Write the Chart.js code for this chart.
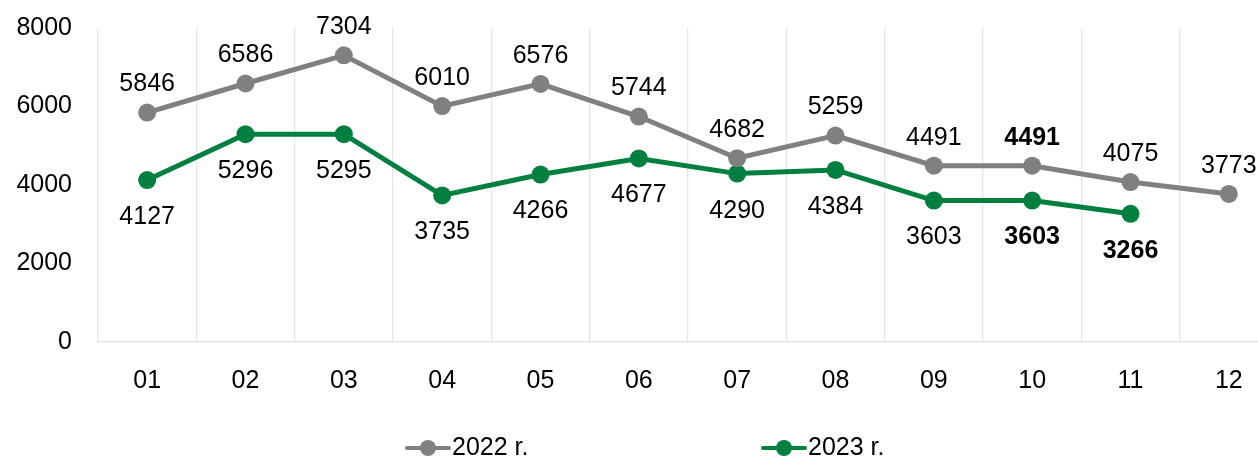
<!DOCTYPE html>
<html>
<head>
<meta charset="utf-8">
<script src="https://cdn.jsdelivr.net/npm/chart.js@4.4.0/dist/chart.umd.min.js"></script>
<style>
  html, body { margin: 0; padding: 0; background: #fff; overflow: hidden; }
  #wrap { width: 1258px; height: 459px; overflow: hidden; }
</style>
</head>
<body>
<div id="wrap"><canvas id="chart" width="1278" height="459"></canvas></div>
<script>
// Data
const months = ['01', '02', '03', '04', '05', '06', '07', '08', '09', '10', '11', '12'];
const values2022 = [5846, 6586, 7304, 6010, 6576, 5744, 4682, 5259, 4491, 4491, 4075, 3773];
const values2023 = [4127, 5296, 5295, 3735, 4266, 4677, 4290, 4384, 3603, 3603, 3266, null];
const yTicks = [0, 2000, 4000, 6000, 8000];
// indices whose labels are bold
const bold2022 = [9];
const bold2023 = [9, 10];

const GRAY = '#808080';
const GREEN = '#007F3F';
const FONT = '"Liberation Sans", Arial, sans-serif';

// Data labels: 2022 above, 2023 below
const labelPlugin = {
    id: 'valueLabels',
    afterDatasetsDraw(chart) {
        const ctx = chart.ctx;
        ctx.save();
        ctx.fillStyle = '#000';
        ctx.textAlign = 'center';
        ctx.textBaseline = 'middle';
        chart.data.datasets.forEach((ds, di) => {
            const meta = chart.getDatasetMeta(di);
            meta.data.forEach((pt, i) => {
                const v = ds.data[i];
                if (v === null) return;
                const isBold = ds.boldIdx.includes(i);
                ctx.font = (isBold ? 'bold ' : '') + '25px ' + FONT;
                const dy = di === 0 ? -28 : 37;
                ctx.fillText(String(v), pt.x, pt.y + dy);
            });
        });
        ctx.restore();
    }
};

// Legend at the bottom, spaced like the original
const legendPlugin = {
    id: 'bottomLegend',
    afterDraw(chart) {
        const ctx = chart.ctx;
        const items = [
            { x: 407, text: '2022 r.', color: GRAY },
            { x: 763, text: '2023 r.', color: GREEN }
        ];
        const y = 448;
        ctx.save();
        items.forEach(it => {
            ctx.strokeStyle = it.color;
            ctx.lineWidth = 4;
            ctx.lineCap = 'round';
            ctx.beginPath();
            ctx.moveTo(it.x, y);
            ctx.lineTo(it.x + 42, y);
            ctx.stroke();
            ctx.fillStyle = it.color;
            ctx.beginPath();
            ctx.arc(it.x + 21, y, 8, 0, Math.PI * 2);
            ctx.fill();
            ctx.fillStyle = '#000';
            ctx.font = '25px ' + FONT;
            ctx.textAlign = 'left';
            ctx.textBaseline = 'middle';
            ctx.fillText(it.text, it.x + 45, y);
        });
        ctx.restore();
    }
};

const ctx = document.getElementById('chart').getContext('2d');
new Chart(ctx, {
    type: 'line',
    data: {
        labels: months,
        datasets: [{
            label: '2022 r.',
            data: values2022,
            boldIdx: bold2022,
            borderColor: GRAY,
            backgroundColor: GRAY,
            borderWidth: 5,
            pointRadius: 9,
            pointHoverRadius: 9,
            pointBorderWidth: 0,
            tension: 0
        }, {
            label: '2023 r.',
            data: values2023,
            boldIdx: bold2023,
            borderColor: GREEN,
            backgroundColor: GREEN,
            borderWidth: 5,
            pointRadius: 9,
            pointHoverRadius: 9,
            pointBorderWidth: 0,
            tension: 0
        }]
    },
    options: {
        responsive: false,
        animation: false,
        layout: { autoPadding: false, padding: { top: 28, right: 0, bottom: 59, left: 0 } },
        plugins: {
            legend: { display: false },
            tooltip: { enabled: false }
        },
        scales: {
            x: {
                offset: true,
                grid: { offset: true, color: '#e6e6e6', lineWidth: 1.3, drawTicks: false },
                border: { display: true, color: '#e0e0e0', width: 1.3 },
                ticks: { color: '#000', font: { family: FONT, size: 25 }, padding: 24 },
                afterFit(scale) { scale.height = 58; }
            },
            y: {
                min: 0,
                max: 8000,
                afterBuildTicks(scale) { scale.ticks = yTicks.map(v => ({ value: v })); },
                grid: { display: false, drawTicks: false },
                border: { display: false },
                ticks: {
                    color: '#000',
                    font: { family: FONT, size: 25 },
                    padding: 26,
                    callback: v => String(v)
                },
                afterFit(scale) {
                    scale.width = 98;
                    scale.paddingTop = 0;
                    scale.paddingBottom = 0;
                }
            }
        }
    },
    plugins: [labelPlugin, legendPlugin]
});
</script>
</body>
</html>
